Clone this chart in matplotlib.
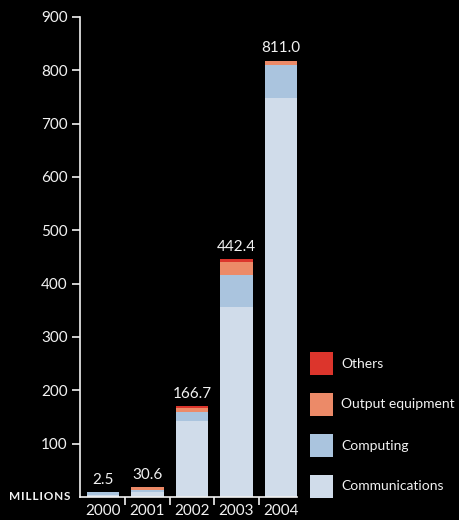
import matplotlib
matplotlib.use('Agg')
import matplotlib.pyplot as plt
from matplotlib.patches import Rectangle

years = ['2000', '2001', '2002', '2003', '2004']
totals = ['2.5', '30.6', '166.7', '442.4', '811.0']
communications = [4, 9, 142, 356, 748]
computing = [5, 4, 17, 60, 62]
output_equipment = [0, 5, 7.5, 24, 7.5]
others = [0, 0, 3.5, 5.5, 0]

colors = {'Communications': '#d0dcea', 'Computing': '#aac4de',
          'Output equipment': '#ec8a68', 'Others': '#dc352c'}
fg = '#f2f2f2'

plt.rcParams['font.family'] = ['Lato', 'DejaVu Sans']

fig = plt.figure(figsize=(4.59, 5.2), dpi=100, facecolor='black')
ax = fig.add_axes([80 / 459, 23 / 520, 217 / 459, 480 / 520])
ax.set_facecolor('black')

x = range(len(years))
bottom = [0] * len(years)
for name, vals in [('Communications', communications), ('Computing', computing),
                   ('Output equipment', output_equipment), ('Others', others)]:
    ax.bar(x, vals, width=0.72, bottom=bottom, color=colors[name], linewidth=0)
    bottom = [b + v for b, v in zip(bottom, vals)]

for i, (top, lab) in enumerate(zip(bottom, totals)):
    ax.annotate(lab, (i, top), xytext=(0, 4), textcoords='offset points',
                ha='center', va='bottom', color=fg, fontsize=11)

ax.set_xlim(-0.517, 4.36)
ax.set_ylim(0, 900)
ax.set_yticks(range(100, 1000, 100))
ax.tick_params(axis='y', colors=fg, labelcolor=fg, labelsize=11, length=6, width=1.2, pad=3)
ax.set_xticks([0.5, 1.5, 2.5, 3.5])
ax.set_xticklabels([])
ax.tick_params(axis='x', colors=fg, length=6, width=1.2)
for i, y in enumerate(years):
    ax.annotate(y, (i, 0), xytext=(0, -5), textcoords='offset points',
                ha='center', va='top', color=fg, fontsize=11)

for s in ['top', 'right']:
    ax.spines[s].set_visible(False)
for s in ['left', 'bottom']:
    ax.spines[s].set_color(fg)
    ax.spines[s].set_linewidth(1.2)

fig.text(70 / 459, 1 - 497 / 520, '\u200a'.join('MILLIONS'), ha='right', va='center',
         color=fg, fontsize=8.5, fontweight='bold')

# legend drawn by hand: square + label per row
W, H = 459, 520
legend_names = ['Others', 'Output equipment', 'Computing', 'Communications']
for k, name in enumerate(legend_names):
    top = 352 + k * 41
    fig.add_artist(Rectangle((310 / W, 1 - (top + 23) / H), 23 / W, 23 / H,
                             transform=fig.transFigure, color=colors[name], linewidth=0))
    fig.text(341 / W, 1 - (top + 11.5) / H, name, ha='left', va='center',
             color=fg, fontsize=10)

fig.savefig('out.png', facecolor='black')
